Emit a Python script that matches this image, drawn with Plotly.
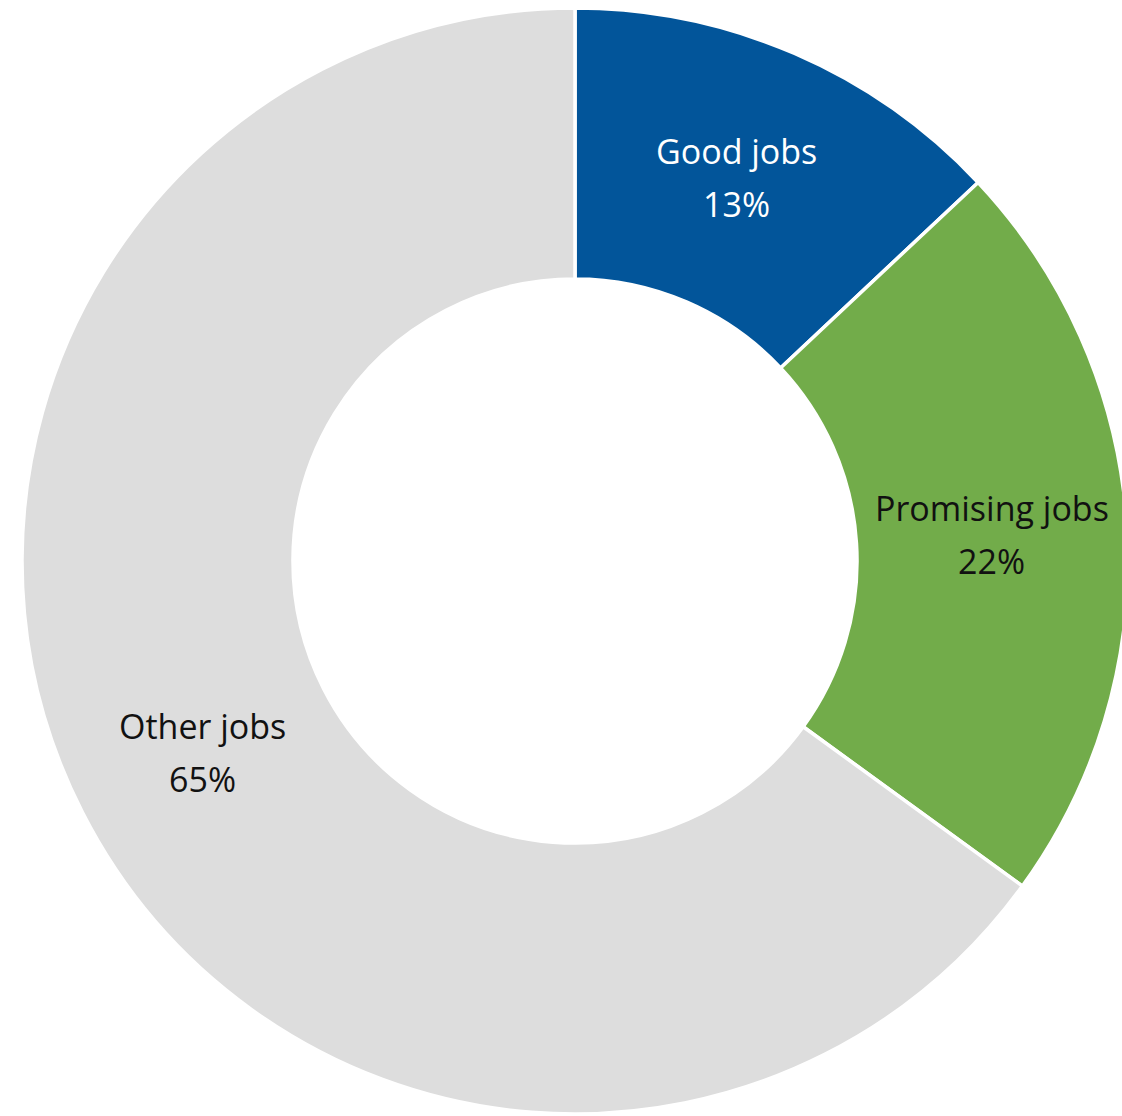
import math
import plotly.graph_objects as go

# Share of jobs by category
categories = ["Good jobs", "Promising jobs", "Other jobs"]
shares = [13, 22, 65]
slice_colors = ["#02559A", "#72AC4A", "#DDDDDD"]
label_colors = ["#FFFFFF", "#111111", "#111111"]

# Canvas geometry
W, H = 1150, 1116
M_TOP, M_BOT = 8, 2
HOLE = 0.51
FONT = "Open Sans"
FONT_SIZE = 34
LINE_GAP = 53  # px between name line and percentage line
# small nudges (px) for label blocks, per category
label_nudge = [(-4, 0), (0, 0), (0, 2)]

fig = go.Figure(
    go.Pie(
        labels=categories,
        values=shares,
        sort=False,
        direction="clockwise",
        rotation=0,
        hole=HOLE,
        marker=dict(colors=slice_colors, line=dict(color="white", width=3.5)),
        textinfo="none",
        hoverinfo="label+percent",
        showlegend=False,
        domain=dict(x=[0, 1], y=[0, 1]),
    )
)

# Place labels at the middle of each ring segment
plot_h = H - M_TOP - M_BOT
R = plot_h / 2
cx, cy = W / 2, M_TOP + R
r_mid = R * (1 + HOLE) / 2
total = sum(shares)
cum = 0
annotations = []
for name, val, col, (dx, dy) in zip(categories, shares, label_colors, label_nudge):
    mid = (cum + val / 2) / total * 2 * math.pi
    cum += val
    px = cx + r_mid * math.sin(mid) + dx
    py = cy - r_mid * math.cos(mid) + dy
    for text, off in ((name, -LINE_GAP / 2), (f"{round(val / total * 100)}%", LINE_GAP / 2)):
        annotations.append(
            dict(
                x=px / W,
                y=1 - (py + off - M_TOP) / plot_h,
                xref="paper",
                yref="paper",
                text=text,
                showarrow=False,
                xanchor="center",
                yanchor="middle",
                font=dict(family=FONT, size=FONT_SIZE, color=col),
            )
        )

fig.update_layout(
    width=W,
    height=H,
    autosize=False,
    margin=dict(l=0, r=0, t=M_TOP, b=M_BOT, pad=0),
    paper_bgcolor="white",
    plot_bgcolor="white",
    annotations=annotations,
)

fig.write_html(
    "out.html",
    post_script="document.body.style.margin='0';document.body.style.overflow='hidden';",
)
